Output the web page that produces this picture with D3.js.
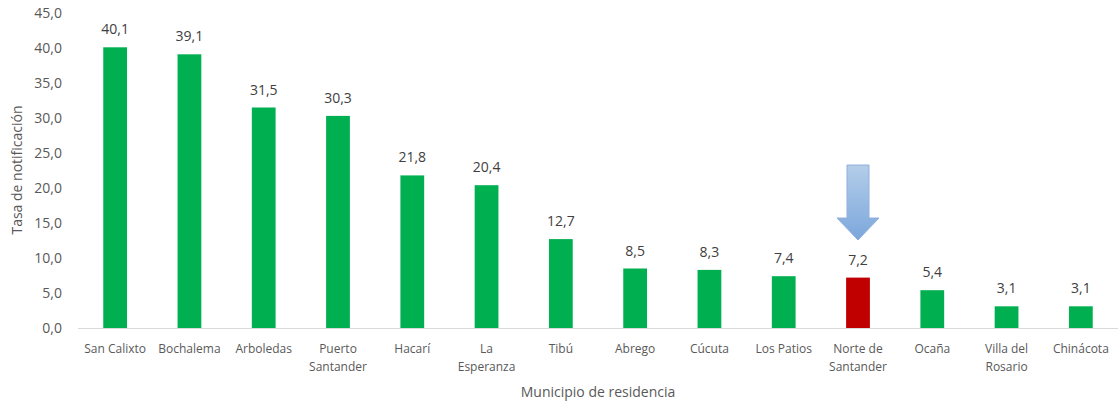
<!DOCTYPE html>
<html>
<head>
<meta charset="utf-8">
<script src="https://cdn.jsdelivr.net/npm/d3@7"></script>
<style>
  body { margin: 0; background: #fff; }
  text { font-family: "Open Sans", "Noto Sans", sans-serif; }
</style>
</head>
<body>
<div id="chart"></div>
<script>
// Data
var municipios = ["San Calixto", "Bochalema", "Arboledas", "Puerto Santander", "Hacarí",
  "La Esperanza", "Tibú", "Abrego", "Cúcuta", "Los Patios", "Norte de Santander",
  "Ocaña", "Villa del Rosario", "Chinácota"];
var tasas = [40.1, 39.1, 31.5, 30.3, 21.8, 20.4, 12.7, 8.5, 8.3, 7.4, 7.2, 5.4, 3.1, 3.1];
// line breaks used for the category labels
var etiquetas = [["San Calixto"], ["Bochalema"], ["Arboledas"], ["Puerto", "Santander"], ["Hacarí"],
  ["La", "Esperanza"], ["Tibú"], ["Abrego"], ["Cúcuta"], ["Los Patios"], ["Norte de", "Santander"],
  ["Ocaña"], ["Villa del", "Rosario"], ["Chinácota"]];
var yTicks = [0, 5, 10, 15, 20, 25, 30, 35, 40, 45];
var destacado = "Norte de Santander";

var w = 1119, h = 406;
var plotLeft = 78, plotRight = 1118, plotTop = 13, plotBottom = 328;

var svg = d3.select("#chart").append("svg")
  .attr("width", w)
  .attr("height", h);

var x = d3.scaleBand()
  .domain(municipios)
  .range([plotLeft, plotRight])
  .paddingInner(0.68)
  .paddingOuter(0.34);

var y = d3.scaleLinear()
  .domain([0, 45])
  .range([plotBottom, plotTop]);

var fmt = function(d) { return d3.format(".1f")(d).replace(".", ","); };

// y tick labels (no axis line, no gridlines)
svg.selectAll("text.ytick")
  .data(yTicks)
  .enter()
  .append("text")
  .attr("class", "ytick")
  .attr("x", 62)
  .attr("y", function(d) { return y(d); })
  .attr("dy", "0.35em")
  .attr("text-anchor", "end")
  .attr("fill", "#595959")
  .style("font-size", "14px")
  .text(fmt);

// bars
svg.selectAll("rect.bar")
  .data(tasas)
  .enter()
  .append("rect")
  .attr("class", "bar")
  .attr("x", function(d, i) { return x(municipios[i]); })
  .attr("y", function(d) { return y(d); })
  .attr("width", x.bandwidth())
  .attr("height", function(d) { return plotBottom - y(d); })
  .attr("fill", function(d, i) { return municipios[i] === destacado ? "#C00000" : "#00B050"; });

// value labels
svg.selectAll("text.val")
  .data(tasas)
  .enter()
  .append("text")
  .attr("class", "val")
  .attr("x", function(d, i) { return x(municipios[i]) + x.bandwidth() / 2; })
  .attr("y", function(d) { return y(d) - 13; })
  .attr("text-anchor", "middle")
  .attr("fill", "#404040")
  .style("font-size", "14px")
  .text(fmt);

// x axis line
svg.append("line")
  .attr("x1", plotLeft).attr("x2", plotRight)
  .attr("y1", plotBottom + 0.5).attr("y2", plotBottom + 0.5)
  .attr("stroke", "#d9d9d9")
  .attr("stroke-width", 1);

// category labels
var cat = svg.selectAll("text.cat")
  .data(etiquetas)
  .enter()
  .append("text")
  .attr("class", "cat")
  .attr("x", function(d, i) { return x(municipios[i]) + x.bandwidth() / 2; })
  .attr("y", 353)
  .attr("text-anchor", "middle")
  .attr("fill", "#595959")
  .style("font-size", "12px");

cat.selectAll("tspan")
  .data(function(d) { return d; })
  .enter()
  .append("tspan")
  .attr("x", function() { return d3.select(this.parentNode).attr("x"); })
  .attr("dy", function(d, i) { return i === 0 ? 0 : 18; })
  .text(function(d) { return d; });

// axis titles
svg.append("text")
  .attr("x", 598)
  .attr("y", 397)
  .attr("text-anchor", "middle")
  .attr("fill", "#595959")
  .style("font-size", "14px")
  .text("Municipio de residencia");

svg.append("text")
  .attr("transform", "translate(22,170) rotate(-90)")
  .attr("text-anchor", "middle")
  .attr("fill", "#595959")
  .style("font-size", "14px")
  .text("Tasa de notificación");

// arrow pointing at the highlighted bar
var defs = svg.append("defs");
var grad = defs.append("linearGradient")
  .attr("id", "arrowGrad")
  .attr("x1", 0).attr("y1", 0).attr("x2", 0).attr("y2", 1);
grad.append("stop").attr("offset", "0%").attr("stop-color", "#b4cde9");
grad.append("stop").attr("offset", "100%").attr("stop-color", "#7ba7dc");

var cx = x(destacado) + x.bandwidth() / 2;
var arrow = d3.path();
arrow.moveTo(cx - 11, 165);
arrow.lineTo(cx + 11, 165);
arrow.lineTo(cx + 11, 218);
arrow.lineTo(cx + 21, 218);
arrow.lineTo(cx, 240);
arrow.lineTo(cx - 21, 218);
arrow.lineTo(cx - 11, 218);
arrow.closePath();

svg.append("path")
  .attr("d", arrow.toString())
  .attr("fill", "url(#arrowGrad)")
  .attr("stroke", "#8fb0dc")
  .attr("stroke-width", 1);
</script>
</body>
</html>
